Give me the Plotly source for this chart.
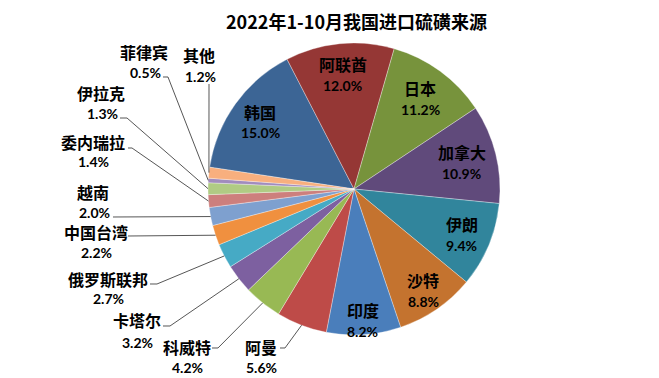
import math
import plotly.graph_objects as go

# ---- data ----
countries = ["韩国", "阿联酋", "日本", "加拿大", "伊朗", "沙特", "印度", "阿曼", "科威特",
             "卡塔尔", "俄罗斯联邦", "中国台湾", "越南", "委内瑞拉", "伊拉克", "菲律宾", "其他"]
shares = [15.0, 12.0, 11.2, 10.9, 9.4, 8.8, 8.2, 5.6, 4.2, 3.2, 2.7, 2.2, 2.0, 1.4, 1.3, 0.5, 1.2]
pct_labels = ["15.0%", "12.0%", "11.2%", "10.9%", "9.4%", "8.8%", "8.2%", "5.6%", "4.2%",
              "3.2%", "2.7%", "2.2%", "2.0%", "1.4%", "1.3%", "0.5%", "1.2%"]
colors = ["#3C6595", "#953735", "#77933C", "#604A7B", "#31859C", "#C4732F", "#4A7EBB",
          "#BE4B48", "#98B954", "#7D60A0", "#46AAC5", "#F0903F", "#7EA0CF", "#CD7F7D",
          "#B0CB84", "#A18CBE", "#F8AF7E"]
title = "2022年1-10月我国进口硫磺来源"

# ---- layout constants ----
W, H = 659, 378
CX, CY, R = 354, 189, 146
ROT = -81.4

# inside labels: radial fraction of radius
inside_frac = {"韩国": 0.79, "阿联酋": 0.79, "日本": 0.77, "加拿大": 0.76,
               "伊朗": 0.80, "沙特": 0.84, "印度": 0.90}
# outside labels: name centre, pct centre, leader stub start/end (pixels)
outside = {
    "菲律宾": ((144, 52), (145, 72), (163, 77), (168, 77)),
    "其他": ((199, 55), (200, 76), (209, 84), (209, 84)),
    "伊拉克": ((101, 93), (102, 113), (120, 118), (127, 118)),
    "委内瑞拉": ((93, 142), (93, 161), (128, 148), (132, 148)),
    "越南": ((93, 192), (94, 212), (113, 217), (113, 217)),
    "中国台湾": ((96, 232), (96, 252), (128, 236), (128, 236)),
    "俄罗斯联邦": ((108, 279), (108, 298), (150, 284), (157, 284)),
    "卡塔尔": ((137, 320), (137, 342), (163, 326), (170, 326)),
    "科威特": ((187, 347), (187, 367), (212, 348), (218, 348)),
    "阿曼": ((261, 347), (261, 367), (280, 348), (285, 348)),
}


def px(x):
    return x / W


def py(y):
    return 1 - y / H


fig = go.Figure(go.Pie(
    labels=countries, values=shares, sort=False, direction="clockwise",
    rotation=ROT, textinfo="none", hoverinfo="label+percent",
    marker=dict(colors=colors, line=dict(color="rgba(255,255,255,0.55)", width=0.6)),
    domain=dict(x=[px(CX - R), px(CX + R)], y=[py(CY + R), py(CY - R)]),
    showlegend=False,
))

NAME_FONT = dict(family="Noto Sans CJK SC", size=16, color="#000000")
PCT_FONT = dict(family="Lato, Noto Sans", size=14, color="#000000")

annotations = []
shapes = []
total = sum(shares)
cum = 0.0
for name, v, pl in zip(countries, shares, pct_labels):
    mid = ROT + 360.0 * (cum + v / 2) / total
    cum += v
    a = math.radians(mid)
    if name in inside_frac:
        d = inside_frac[name] * R
        x = CX + d * math.sin(a)
        y = CY - d * math.cos(a)
        annotations.append(dict(x=px(x), y=py(y - 10), xref="paper", yref="paper",
                                text="<b>" + name + "</b>", showarrow=False, font=NAME_FONT,
                                xanchor="center", yanchor="middle"))
        annotations.append(dict(x=px(x), y=py(y + 11), xref="paper", yref="paper",
                                text="<b>" + pl + "</b>", showarrow=False, font=PCT_FONT,
                                xanchor="center", yanchor="middle"))
    else:
        (nx, ny), (qx, qy), (s0x, s0y), (s1x, s1y) = outside[name]
        ex = CX + R * math.sin(a)
        ey = CY - R * math.cos(a)
        annotations.append(dict(x=px(nx), y=py(ny), xref="paper", yref="paper",
                                text="<b>" + name + "</b>", showarrow=False, font=NAME_FONT,
                                xanchor="center", yanchor="middle"))
        annotations.append(dict(x=px(qx), y=py(qy), xref="paper", yref="paper",
                                text="<b>" + pl + "</b>", showarrow=False, font=PCT_FONT,
                                xanchor="center", yanchor="middle"))
        path = "M {:.5f},{:.5f} L {:.5f},{:.5f} L {:.5f},{:.5f}".format(
            px(s0x), py(s0y), px(s1x), py(s1y), px(ex), py(ey))
        shapes.append(dict(type="path", path=path, xref="paper", yref="paper",
                           line=dict(color="#2b2b2b", width=0.8)))

annotations.append(dict(x=px(357), y=py(21), xref="paper", yref="paper",
                        text="<b>" + title + "</b>", showarrow=False,
                        font=dict(family="Noto Sans CJK SC", size=18, color="#000000"),
                        xanchor="center", yanchor="middle"))

fig.update_layout(
    width=W, height=H, margin=dict(l=0, r=0, t=0, b=0),
    paper_bgcolor="white", plot_bgcolor="white",
    annotations=annotations, shapes=shapes,
)

fig.write_html("out.html", config={"displayModeBar": False},
               post_script="document.body.style.margin='0';document.body.style.padding='0';")
